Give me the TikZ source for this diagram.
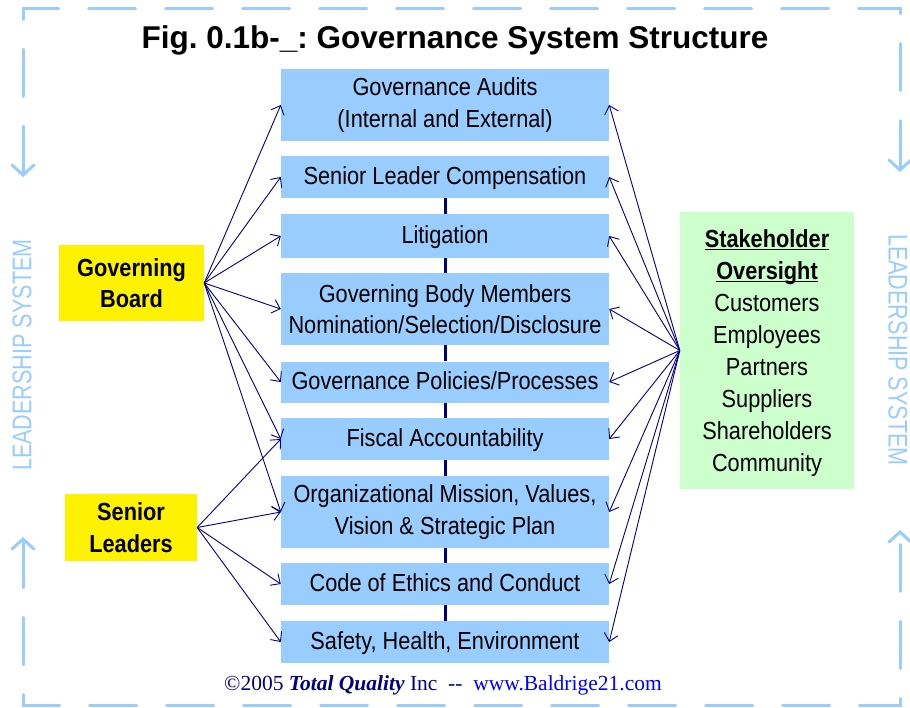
\documentclass[tikz,border=0pt]{standalone}
\usepackage{fontspec}
\setmainfont{Liberation Sans}
\newfontfamily\narf[FakeStretch=0.88]{Liberation Sans}
\newfontfamily\lsfont[FakeStretch=0.8]{Liberation Sans}
\newfontfamily\serf{Liberation Serif}
\usetikzlibrary{arrows.meta}
\definecolor{boxblue}{HTML}{99CCFF}
\definecolor{lineblue}{HTML}{99CCFF}
\definecolor{navy}{HTML}{000080}
\definecolor{linkblue}{HTML}{0000FF}
\definecolor{stakegreen}{HTML}{CCFFCC}
\newcommand{\ulbox}[1]{\underline{\smash{#1}}}
\frenchspacing
\tikzset{
  govbox/.style={fill=boxblue, draw=none, minimum width=328pt, inner sep=0pt,
    align=center, text=black, font=\narf\fontsize{24.7}{31.5}\selectfont},
  oneline/.style={text height=18pt, text depth=3pt},
  yelbox/.style={fill=yellow, draw=none, inner sep=0pt, align=center, text=black,
    font=\narf\bfseries\fontsize{24.7}{31.5}\selectfont},
  arr/.style={draw=navy, line width=0.9pt, -{Straight Barb[length=7.5pt,width=14pt]}},
  midline/.style={draw=navy, line width=3pt},
  border/.style={draw=lineblue, line width=3pt, line cap=round, dash pattern=on 47pt off 30pt,
    {Straight Barb[length=10pt,width=22pt,line cap=round]}-{Straight Barb[length=10pt,width=22pt,line cap=round]}},
  lstext/.style={text=lineblue, font=\lsfont\fontsize{27}{30}\selectfont, inner sep=0pt}
}
\begin{document}
\begin{tikzpicture}[x=1pt,y=-1pt]
\useasboundingbox (0,0) rectangle (910,707);

% border
\draw[border] (23,177) -- (23,8) -- (900,8) -- (900,172);
\draw[border] (23,537) -- (23,705) -- (900,705) -- (900,530);
\node[lstext, rotate=90] (lsl) at (22,355) {LEADERSHIP SYSTEM};
\node[lstext, rotate=-90] (lsr) at (898,350) {LEADERSHIP SYSTEM};

% title
\node[font=\bfseries\fontsize{31.5}{36}\selectfont, inner sep=0pt] (title) at (455,40) {Fig. 0.1b-\_: Governance System Structure};

% central boxes
\node[govbox, minimum height=72pt] (b1) at (445,105) {Governance Audits\\(Internal and External)};
\node[govbox, oneline, minimum height=42pt] (b2) at (445,177) {Senior Leader Compensation};
\node[govbox, oneline, minimum height=44pt] (b3) at (445,236) {Litigation};
\node[govbox, minimum height=72pt] (b4) at (445,309) {Governing Body Members\\Nomination/Selection/Disclosure};
\node[govbox, oneline, minimum height=41pt] (b5) at (445,382) {Governance Policies/Processes};
\node[govbox, oneline, minimum height=42pt] (b6) at (445,439) {Fiscal Accountability};
\node[govbox, minimum height=72pt] (b7) at (445,512) {Organizational Mission, Values,\\Vision \& Strategic Plan};
\node[govbox, oneline, minimum height=42pt] (b8) at (445,584) {Code of Ethics and Conduct};
\node[govbox, oneline, minimum height=42pt] (b9) at (445,642) {Safety, Health, Environment};

% central links
\foreach \a/\b in {b2/b3,b3/b4,b4/b5,b5/b6,b6/b7,b7/b8,b8/b9}
  \draw[midline] (\a.south) -- (\b.north);

% side boxes
\node[yelbox, minimum width=145pt, minimum height=76pt] (gb) at (131.5,283) {Governing\\Board};
\node[yelbox, minimum width=132pt, minimum height=67pt] (sl) at (131,527.5) {Senior\\Leaders};
\node[fill=stakegreen, draw=none, inner sep=0pt, minimum width=174pt, minimum height=277pt] (sh) at (767,350.5) {};
\node[inner sep=0pt, align=center, font=\narf\fontsize{24.7}{32}\selectfont] (shtext) at (767,362)
  {{\bfseries\ulbox{Stakeholder}}\\{\bfseries\ulbox{Oversight}}\\Customers\\Employees\\Partners\\Suppliers\\Shareholders\\Community};

% arrows
\foreach \t in {b1,b2,b3,b4,b5,b6,b7}
  \draw[arr] (gb.east) -- (\t.west);
\foreach \t in {b6,b7,b8,b9}
  \draw[arr] (sl.east) -- (\t.west);
\foreach \t in {b1,b2,b3,b4,b5,b6,b7,b8,b9}
  \draw[arr] (sh.west) -- (\t.east);

% footer
\node[font=\serf\fontsize{21.5}{24}\selectfont, inner sep=0pt] (foot) at (443,685)
  {\textcolor{navy}{©2005 \textbf{\textit{Total Quality}} Inc\ \ --}\ \ \textcolor{linkblue}{www.Baldrige21.com}};
\end{tikzpicture}
\end{document}
